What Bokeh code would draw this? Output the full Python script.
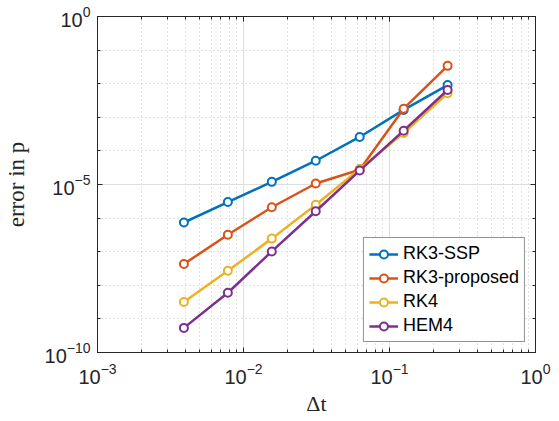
from bokeh.plotting import figure
from bokeh.models import FixedTicker, LogAxis, Legend, LegendItem, CustomJSTickFormatter
from bokeh.embed import file_html
from bokeh.resources import INLINE

# ---- data ----
dt = [0.00390625, 0.0078125, 0.015625, 0.03125, 0.0625, 0.125, 0.25]
rk3_ssp = [7.4e-7, 3.0e-6, 1.2e-5, 5.1e-5, 2.6e-4, 1.66e-3, 9.1e-3]
rk3_proposed = [4.3e-8, 3.2e-7, 2.1e-6, 1.07e-5, 2.75e-5, 1.8e-3, 3.4e-2]
rk4 = [3.2e-9, 2.7e-8, 2.45e-7, 2.5e-6, 2.9e-5, 3.4e-4, 5.2e-3]
hem4 = [5.4e-10, 6.0e-9, 1.02e-7, 1.6e-6, 2.6e-5, 4.0e-4, 6.5e-3]

series_names = ["RK3-SSP", "RK3-proposed", "RK4", "HEM4"]
series_values = [rk3_ssp, rk3_proposed, rk4, hem4]
colors = ["#0072BD", "#D95319", "#EDB120", "#7E2F8E"]

x_lim = (1e-3, 1e0)
y_lim = (1e-10, 1e0)
x_major = [1e-3, 1e-2, 1e-1, 1e0]
x_minor = [m * 10.0 ** e for e in (-3, -2, -1) for m in range(2, 10)]
y_major = [1e-10, 1e-5, 1e0]
y_minor = [10.0 ** e for e in range(-10, 1)]

AX = "#262626"
FONT = "Liberation Sans"
SERIF = "Liberation Serif"

p = figure(width=559, height=421, x_axis_type="log", y_axis_type="log",
           x_range=x_lim, y_range=y_lim,
           output_backend="svg", toolbar_location=None,
           min_border_left=94, min_border_right=24, min_border_top=16, min_border_bottom=69)
p.background_fill_color = "white"
p.border_fill_color = "white"
p.outline_line_color = AX
p.outline_line_width = 1

xt = FixedTicker(ticks=x_major, minor_ticks=x_minor)
yt = FixedTicker(ticks=y_major, minor_ticks=y_minor)
p.xaxis.ticker = xt
p.yaxis.ticker = yt
p.xgrid.ticker = xt
p.ygrid.ticker = yt

for g in (p.xgrid, p.ygrid):
    g.grid_line_color = "#dedede"
    g.grid_line_width = 1
    g.minor_grid_line_color = "#c4c4c4"
    g.minor_grid_line_dash = "1 3"
    g.minor_grid_line_width = 1

for ax in (p.xaxis[0], p.yaxis[0]):
    ax.axis_line_color = AX
    ax.major_tick_line_color = AX
    ax.minor_tick_line_color = AX
    ax.major_tick_in = 5
    ax.major_tick_out = 0
    ax.minor_tick_in = 3
    ax.minor_tick_out = 0
    ax.major_label_text_font = FONT
    ax.major_label_text_font_size = "20px"
    ax.major_label_text_color = "#262626"
    ax.axis_label_text_font = SERIF
    ax.axis_label_text_font_style = "normal"
    ax.axis_label_text_color = "#262626"

p.xaxis.axis_label = "Δt"
p.yaxis.axis_label = "error in p"
p.xaxis.axis_label_text_font_size = "22px"
p.yaxis.axis_label_text_font_size = "23px"
p.xaxis.major_label_standoff = 10
p.yaxis.major_label_standoff = 7
p.xaxis.axis_label_standoff = 4
p.yaxis.axis_label_standoff = 13

blank = CustomJSTickFormatter(code="return ''")
for loc, tk in (("above", xt), ("right", yt)):
    a = LogAxis(ticker=tk, formatter=blank, axis_line_color=AX,
                major_tick_line_color=AX, minor_tick_line_color=AX,
                major_tick_in=5, major_tick_out=0, minor_tick_in=3, minor_tick_out=0,
                major_label_standoff=0, major_label_text_font_size="1px")
    p.add_layout(a, loc)

items = []
for name, vals, c in zip(series_names, series_values, colors):
    ln = p.line(dt, vals, line_color=c, line_width=2.5)
    sc = p.scatter(dt, vals, marker="circle", size=8, line_color=c, line_width=2,
                   fill_color="white")
    items.append(LegendItem(label=name, renderers=[ln, sc]))

legend = Legend(items=items, location="bottom_right", margin=10,
                padding=5, spacing=3, label_standoff=5,
                glyph_width=29, glyph_height=20, label_height=20,
                label_text_font=FONT, label_text_font_size="18px",
                label_text_color="black",
                border_line_color="#262626", border_line_width=1,
                background_fill_color="white", background_fill_alpha=1)
p.add_layout(legend, "center")

open("out.html", "w").write(file_html(p, INLINE))
